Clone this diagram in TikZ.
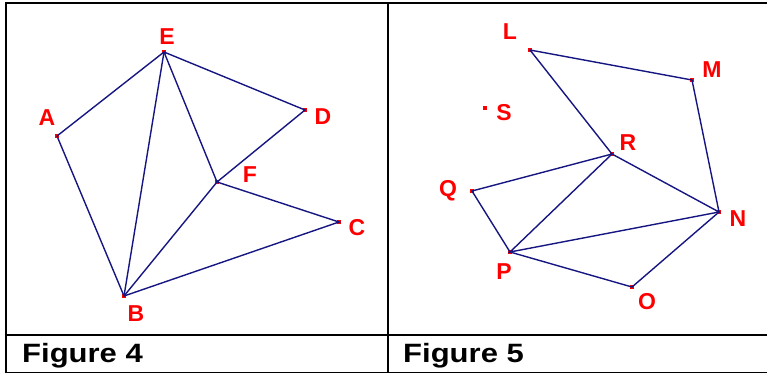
\documentclass[tikz,border=0pt]{standalone}
\usepackage{fontspec}
\setmainfont{Liberation Sans}
\definecolor{ptred}{RGB}{255,0,0}
\definecolor{segblue}{RGB}{22,22,130}
\tikzset{
 seg/.style={segblue,line width=1.4pt},
 vert/.style={rectangle,fill=ptred,minimum size=4.2pt,inner sep=0},
 vlabel/.style={text=ptred,font=\fontsize{23}{27}\selectfont\bfseries,inner sep=0},
 caption/.style={anchor=base west,font=\fontsize{26.5}{30}\selectfont\bfseries,xscale=1.17,inner sep=0},
 frame/.style={line width=2pt},
 thinframe/.style={line width=1pt}
}
\begin{document}
\begin{tikzpicture}[x=1pt,y=-1pt]
\path[use as bounding box] (0,0) rectangle (767,373);
% table lines
\draw[frame] (5.7,373) -- (5.7,3.3) -- (767,3.3);
\draw[frame] (387.8,3.3) -- (387.8,373);
\draw[frame] (4.7,334.8) -- (767,334.8);
\draw[thinframe] (4.7,372) -- (767,372);
\node[caption] (cap4) at (22,362) {Figure 4};
\node[caption] (cap5) at (403,362) {Figure 5};
% Figure 4
\node[vert] (A) at (57,136) {};
\node[vert] (B) at (124,296) {};
\node[vert] (C) at (339,222) {};
\node[vert] (D) at (305,110) {};
\node[vert] (E) at (164,52) {};
\node[vert] (F) at (217,182) {};
\node[vlabel] (lA) at (47,118) {A};
\node[vlabel] (lB) at (136,314) {B};
\node[vlabel] (lC) at (357,228) {C};
\node[vlabel] (lD) at (323,117) {D};
\node[vlabel] (lE) at (167,37) {E};
\node[vlabel] (lF) at (250,175) {F};
\draw[seg] (A.center) -- (E.center) -- (D.center) -- (F.center) -- (C.center) -- (B.center) -- (A.center);
\draw[seg] (E.center) -- (B.center);
\draw[seg] (E.center) -- (F.center) -- (B.center);
% Figure 5
\node[vert] (L) at (530,50) {};
\node[vert] (M) at (692,80) {};
\node[vert] (N) at (719,212) {};
\node[vert] (O) at (632,287) {};
\node[vert] (P) at (510,252) {};
\node[vert] (Q) at (472,191) {};
\node[vert] (R) at (612,154) {};
\node[vert] (S) at (485,108) {};
\node[vlabel] (lL) at (510,32) {L};
\node[vlabel] (lM) at (712,70) {M};
\node[vlabel] (lN) at (738,219) {N};
\node[vlabel] (lO) at (647,302) {O};
\node[vlabel] (lP) at (504,272) {P};
\node[vlabel] (lQ) at (448,191) {Q};
\node[vlabel] (lR) at (628,143) {R};
\node[vlabel] (lS) at (504,113) {S};
\draw[seg] (L.center) -- (M.center) -- (N.center) -- (O.center) -- (P.center) -- (Q.center) -- (R.center) -- (L.center);
\draw[seg] (R.center) -- (N.center) -- (P.center) -- (R.center);
\end{tikzpicture}
\end{document}
